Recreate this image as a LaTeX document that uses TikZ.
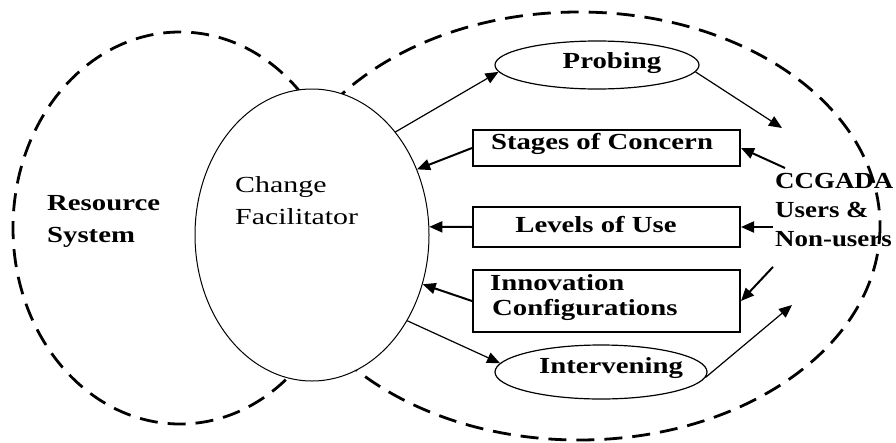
\documentclass[tikz,border=0pt]{standalone}
\usepackage{fontspec}
\setmainfont{Liberation Serif}
\usetikzlibrary{arrows.meta,shapes.geometric}
\newcommand{\sxb}[1]{\scalebox{1.25}[1]{#1}}
\newcommand{\sxu}[1]{\scalebox{1.17}[1]{#1}}
\newcommand{\sxr}[1]{\scalebox{1.3}[1]{#1}}
\begin{document}
\begin{tikzpicture}[x=1pt,y=-1pt,
  dashline/.style={line width=2.8pt, dash pattern=on 18pt off 10pt},
  arr/.style={-{Triangle[length=13pt,width=11pt]}},
  thinarr/.style={arr, line width=1.2pt},
  thickarr/.style={arr, line width=2pt},
  boxst/.style={draw, line width=2pt, fill=white, rectangle, inner sep=0pt, minimum width=267pt},
  ellst/.style={draw, ellipse, line width=1.2pt, fill=white, inner sep=0pt},
  txtb/.style={inner sep=0pt, font=\fontsize{23}{32}\selectfont\bfseries, align=left},
  txtr/.style={inner sep=0pt, font=\fontsize{23}{32}\selectfont, align=left},
  txtu/.style={inner sep=0pt, font=\fontsize{23}{29}\selectfont\bfseries, align=left},
]
\useasboundingbox (0,0) rectangle (896,442);
% outer dashed regions
\draw[dashline] (180,228) ellipse [x radius=167, y radius=196];
\draw[dashline] (579,226) ellipse [x radius=301, y radius=214];
% change facilitator
\node[ellst, line width=1pt, minimum width=234pt, minimum height=292pt] (cf) at (312,235) {};
\node[txtr, anchor=north west] (cft) at (235,176) {\sxr{Change}\\\sxr{Facilitator}};
\node[txtb, anchor=north west] (rs) at (47,195) {\sxb{Resource}\\\sxb{System}};
% probing / intervening
\node[ellst, minimum width=204pt, minimum height=48pt] (probe) at (597,65) {};
\node[txtb, anchor=base] (probet) at (612,68) {\sxb{Probing}};
\node[ellst, minimum width=212pt, minimum height=54pt] (interv) at (601,372) {};
\node[txtb, anchor=base] (intervt) at (611,373) {\sxb{Intervening}};
% boxes
\node[boxst, minimum height=36pt] (soc) at (606.5,148) {};
\node[txtb, anchor=base] (soct) at (602,149) {\sxb{Stages of Concern}};
\node[boxst, minimum height=40pt] (lou) at (606.5,227) {};
\node[txtb, anchor=base] (lout) at (596,232) {\sxb{Levels of Use}};
\node[boxst, minimum height=62pt] (ic) at (606.5,301) {};
\node[txtb, anchor=base west] (ict1) at (490,290) {\sxb{Innovation}};
\node[txtb, anchor=base west] (ict2) at (492,315) {\sxb{Configurations}};
% users
\node[txtu, anchor=north west] (users) at (775,173) {\sxu{CCGADA}\\\sxu{Users \&}\\\sxu{Non-users}};
% free ends
\coordinate (t1) at (782,128);
\coordinate (t2) at (792,305);
% connectors
\draw[thinarr] (cf.51) -- (probe.184);
\draw[thinarr] (probe.-4) -- (t1);
\draw[thickarr] (soc.west) -- (cf.32);
\draw[thickarr] ([shift={(10pt,5pt)}]users.north west) -- (soc.east);
\draw[thickarr] ([xshift=-2pt]lou.east -| users.west) -- (lou.east);
\draw[thickarr] (lou.west) -- (cf.4);
\draw[thickarr] (ic.west) -- (cf.-24);
\draw[thickarr] ([shift={(-2pt,-20pt)}]users.south west) -- (ic.east);
\draw[thinarr] (cf.-42) -- (interv.175);
\draw[thinarr] (interv.-3) -- (t2);
\end{tikzpicture}
\end{document}
